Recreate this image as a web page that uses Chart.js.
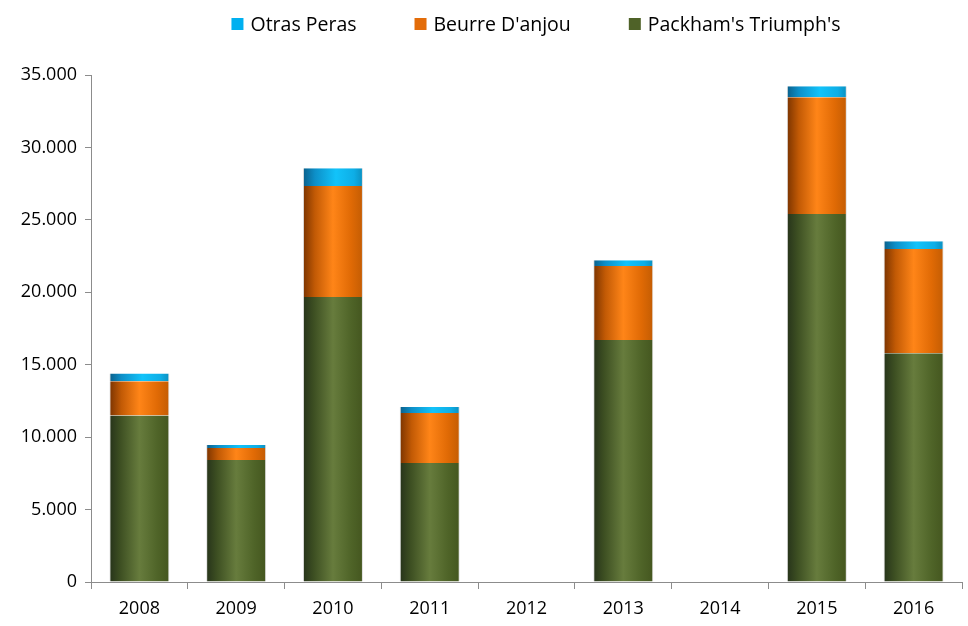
<!DOCTYPE html>
<html>
<head>
<meta charset="utf-8">
<script src="https://cdn.jsdelivr.net/npm/chart.js@4/dist/chart.umd.min.js"></script>
<style>
html,body{margin:0;padding:0;background:#fff;}
#wrap{width:968px;height:626px;}
</style>
</head>
<body>
<div id="wrap"><canvas id="c" width="968" height="626"></canvas></div>
<script>
const years = ['2008','2009','2010','2011','2012','2013','2014','2015','2016'];
const packham = [11500, 8420, 19670, 8210, 0, 16700, 0, 25400, 15800];
const beurre  = [2350, 830, 7660, 3450, 0, 5110, 0, 8070, 7180];
const otras   = [550, 200, 1240, 420, 0, 410, 0, 760, 550];
const yTicks  = [0, 5000, 10000, 15000, 20000, 25000, 30000, 35000];

const FONT = "'Open Sans', 'Liberation Sans', sans-serif";
const BAR_FRAC = 0.62;

function cyl(stops, flat) {
  return function(ctx) {
    const chart = ctx.chart;
    const xs = chart.scales && chart.scales.x;
    if (!chart.chartArea || !xs || ctx.dataIndex === undefined) return flat;
    const cx = xs.getPixelForValue(ctx.dataIndex);
    const w = xs.width / years.length * BAR_FRAC;
    const g = chart.ctx.createLinearGradient(cx - w / 2, 0, cx + w / 2, 0);
    stops.forEach(s => g.addColorStop(s[0], s[1]));
    return g;
  };
}

const greenStops = [[0,'#26331a'],[0.18,'#3d4f22'],[0.5,'#677c3d'],[0.8,'#4f6428'],[1,'#44561f']];
const orangeStops = [[0,'#7a3300'],[0.2,'#c25a05'],[0.5,'#ff8518'],[0.8,'#e06a05'],[1,'#c35c03']];
const blueStops = [[0,'#0a5f8a'],[0.2,'#0d8fc8'],[0.55,'#12c3fa'],[0.85,'#0eaee6'],[1,'#0b8fbf']];

const legendItems = [
  {text: 'Otras Peras', color: '#00b0f0'},
  {text: "Beurre D'anjou", color: '#e36c09'},
  {text: "Packham's Triumph's", color: '#4f6228'}
];

const customLegend = {
  id: 'customLegend',
  afterDraw(chart) {
    const c = chart.ctx;
    c.save();
    c.font = '19.5px ' + FONT;
    c.textBaseline = 'middle';
    const box = 12, gapBT = 7, gapItems = 58;
    let total = 0;
    const widths = legendItems.map(it => c.measureText(it.text).width);
    widths.forEach((w, i) => { total += box + gapBT + w + (i < widths.length - 1 ? gapItems : 0); });
    let x = 536 - total / 2;
    const y = 24;
    legendItems.forEach((it, i) => {
      c.fillStyle = it.color;
      c.fillRect(x, y - box / 2, box, box);
      c.fillStyle = '#000';
      c.fillText(it.text, x + box + gapBT, y + 1);
      x += box + gapBT + widths[i] + gapItems;
    });
    c.restore();
  }
};

new Chart(document.getElementById('c'), {
  type: 'bar',
  data: {
    labels: years,
    datasets: [
      {label: "Packham's Triumph's", data: packham, backgroundColor: cyl(greenStops, '#4f6228'), borderColor: 'rgba(200,200,200,0.6)', borderWidth: {left:1,right:1,top:0,bottom:0}},
      {label: "Beurre D'anjou", data: beurre, backgroundColor: cyl(orangeStops, '#e36c09'), borderColor: 'rgba(200,200,200,0.6)', borderWidth: {left:1,right:1,top:0,bottom:0}},
      {label: 'Otras Peras', data: otras, backgroundColor: cyl(blueStops, '#00b0f0'), borderColor: 'rgba(200,200,200,0.6)', borderWidth: {left:1,right:1,top:0,bottom:0}}
    ]
  },
  options: {
    responsive: false,
    animation: false,
    layout: {padding: {top: 75, right: 6, left: 0, bottom: 0}},
    datasets: {bar: {categoryPercentage: 1, barPercentage: BAR_FRAC}},
    plugins: {legend: {display: false}, tooltip: {enabled: false}},
    scales: {
      x: {
        stacked: true,
        grid: {drawOnChartArea: false, drawTicks: true, tickLength: 7, color: '#8c8c8c', offset: true},
        border: {color: '#8c8c8c', width: 1},
        ticks: {color: '#000', font: {family: FONT, size: 18}, padding: 9, maxRotation: 0},
        afterFit(s) { s.height = 44; }
      },
      y: {
        stacked: true,
        min: 0, max: 35000,
        afterBuildTicks(s) { s.ticks = yTicks.map(v => ({value: v})); },
        grid: {drawOnChartArea: false, drawTicks: true, tickLength: 6, color: '#8c8c8c'},
        border: {color: '#8c8c8c', width: 1},
        ticks: {
          color: '#000', font: {family: FONT, size: 18}, padding: 8,
          callback: v => v === 0 ? '0' : v.toString().replace(/\B(?=(\d{3})+(?!\d))/g, '.')
        },
        afterFit(s) { s.width = 91; }
      }
    }
  },
  plugins: [customLegend]
});
</script>
</body>
</html>
